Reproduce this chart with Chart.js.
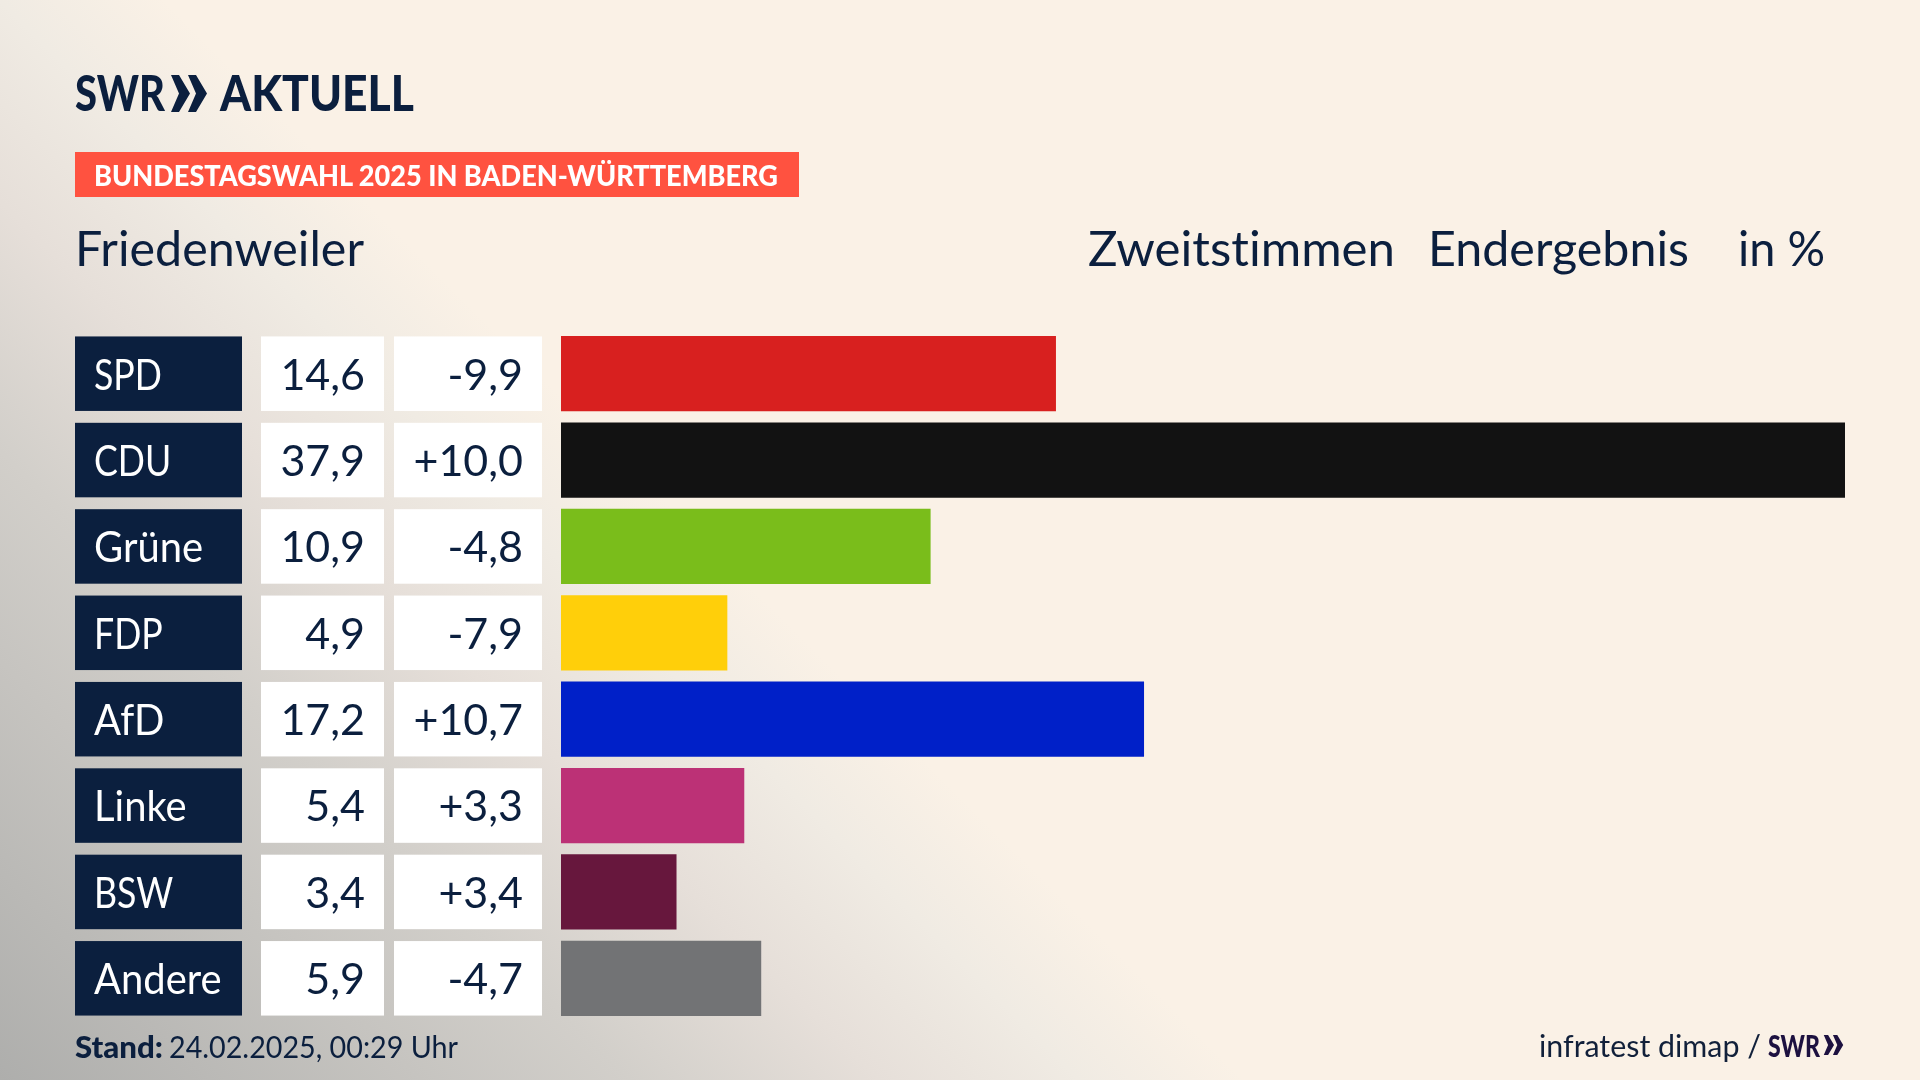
<!DOCTYPE html>
<html lang="de">
<head>
<meta charset="utf-8">
<title>Friedenweiler</title>
<script src="https://cdn.jsdelivr.net/npm/chart.js@4"></script>
<style>
html, body { margin: 0; padding: 0; }
body {
    width: 1920px; height: 1080px; overflow: hidden; position: relative;
    font-family: Lato, "Noto Sans", sans-serif; color: #0b1f3e;
    font-variant-ligatures: none;
    background: linear-gradient(225deg, #faf1e6 58.5%, #f0ebe3 64%, #e6dfd9 70.7%, #d2cfca 79%, #aeaeac 100%);
}
canvas { position: absolute; left: 0; top: 0; }
.t { position: absolute; white-space: nowrap; transform-origin: 0 0; line-height: 1; }
#band { position: absolute; left: 75px; top: 152px; width: 724px; height: 45px; background: #ff5240; }
svg { position: absolute; }
</style>
</head>
<body>
<div id="band"></div>
<canvas id="grafico" width="1920" height="1080"></canvas>

<div class="t" data-w="90" style="left:75px;top:67px;font-size:50px;font-weight:900">SWR</div>
<svg style="left:171px;top:75px" width="36" height="37" viewBox="0 0 36 37"><path fill="#0b1f3e" d="M0 0h8l11 18.500-11 18.500h-8l8-18.500zM17 0h8l11 18.500-11 18.500h-8l8-18.500z"/></svg>
<div class="t" data-w="194" style="left:220px;top:67px;font-size:50px;font-weight:900">AKTUELL</div>
<div class="t" data-w="684" style="left:94px;top:160px;font-size:29px;font-weight:900;color:#fff">BUNDESTAGSWAHL 2025 IN BADEN-WÜRTTEMBERG</div>

<div class="t" data-w="289" style="left:75px;top:224px;font-size:48px">Friedenweiler</div>
<div class="t" data-w="307" style="left:1088px;top:224px;font-size:48px">Zweitstimmen</div>
<div class="t" data-w="261" style="left:1428px;top:224px;font-size:48px">Endergebnis</div>
<div class="t" data-w="87" style="left:1738px;top:224px;font-size:48px">in %</div>

<div class="t" data-w="88" style="left:75px;top:1031px;font-size:30px;font-weight:900">Stand:</div>
<div class="t" data-w="289" style="left:169px;top:1031px;font-size:30px">24.02.2025, 00:29 Uhr</div>
<div class="t" data-w="222" style="left:1539px;top:1030px;font-size:30px;color:#11203a">infratest dimap /</div>
<div class="t" data-w="52" style="left:1768px;top:1030px;font-size:30px;font-weight:900;color:#1d1140">SWR</div>
<svg style="left:1822px;top:1035px" width="23" height="20" viewBox="0 0 36 37"><path fill="#1d1140" d="M0 0h8l11 18.500-11 18.500h-8l8-18.500zM17 0h8l11 18.500-11 18.500h-8l8-18.500z"/></svg>

<script>
const parteien = ["SPD", "CDU", "Grüne", "FDP", "AfD", "Linke", "BSW", "Andere"];
const ergebnis = [14.6, 37.9, 10.9, 4.9, 17.2, 5.4, 3.4, 5.9];
const differenz = [-9.9, 10.0, -4.8, -7.9, 10.7, 3.3, 3.4, -4.7];
const farben = ["#d8201f", "#121212", "#7abd1b", "#ffcf0a", "#0020c8", "#bc3176", "#67173d", "#727375"];

// titel auf die breite der vorlage bringen
document.querySelectorAll(".t").forEach(function (el) {
    const w = el.getBoundingClientRect().width;
    el.style.transform = "scaleX(" + (el.dataset.w / w) + ")";
});

function zahl(v) {
    return v.toFixed(1).replace(".", ",");
}

function mitVorzeichen(v) {
    return (v > 0 ? "+" : "") + zahl(v);
}

// parteiname, ergebnis und differenz links neben den balken
const tabelle = {
    id: "tabelle",
    afterDatasetsDraw: function (chart) {
        const ctx = chart.ctx;
        ctx.save();
        chart.getDatasetMeta(0).data.forEach(function (bar, i) {
            const h = bar.height;
            const top = bar.y - h / 2;
            ctx.fillStyle = "#0b1f3e";
            ctx.fillRect(75, top, 167, h);
            ctx.fillStyle = "#ffffff";
            ctx.fillRect(261, top, 123, h);
            ctx.fillRect(394, top, 148, h);

            ctx.font = "43px Lato";
            ctx.textBaseline = "middle";
            ctx.textAlign = "left";
            // grossbuchstaben sind in der vorlage deutlich schmaler
            const eng = /^[A-Z]+$/.test(parteien[i]) ? 0.83 : 0.93;
            ctx.fillText(parteien[i], 94, bar.y + 2, ctx.measureText(parteien[i]).width * eng);
            ctx.fillStyle = "#0b1f3e";
            ctx.textAlign = "right";
            ctx.fillText(zahl(ergebnis[i]), 365, bar.y + 2);
            ctx.fillText(mitVorzeichen(differenz[i]), 523, bar.y + 2);
        });
        ctx.restore();
    }
};

const grafico = new Chart(document.getElementById("grafico"), {
    type: "bar",
    data: {
        labels: parteien,
        datasets: [{
            data: ergebnis,
            backgroundColor: farben,
            barThickness: 74.5,
            borderWidth: 0
        }]
    },
    options: {
        indexAxis: "y",
        responsive: false,
        animation: false,
        layout: { padding: { left: 561, right: 75, top: 330.5, bottom: 58.5 } },
        plugins: { legend: { display: false }, tooltip: { enabled: false } },
        scales: {
            x: { display: false, min: 0, max: 37.9 },
            y: { display: false }
        }
    },
    plugins: [tabelle]
});
</script>
</body>
</html>
